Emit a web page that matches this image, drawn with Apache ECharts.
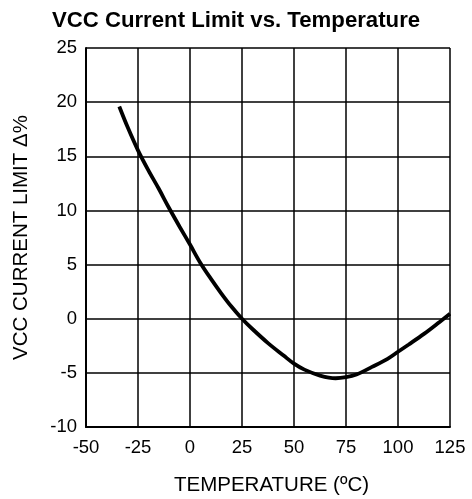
<!DOCTYPE html>
<html>
<head>
<meta charset="utf-8">
<script src="https://cdn.jsdelivr.net/npm/echarts@6/dist/echarts.min.js"></script>
<style>html,body{margin:0;padding:0;background:#fff}#c{width:472px;height:499px}</style>
</head>
<body>
<div id="c"></div>
<script>
const titleText = 'VCC Current Limit vs. Temperature';
const xName = 'TEMPERATURE (ºC)';
const yName = 'VCC CURRENT LIMIT Δ%';
const temperature = [-34, -30, -25, -20, -15, -10, -5, 0, 5, 10, 15, 20, 25, 30, 37.5, 45, 50, 55, 62.5, 70, 75, 80, 87.5, 95, 100, 105, 112.5, 120, 125];
const currentLimitDelta = [19.6, 17.7, 15.55, 13.7, 12.0, 10.2, 8.5, 6.85, 5.15, 3.7, 2.35, 1.1, 0, -0.95, -2.25, -3.4, -4.15, -4.7, -5.25, -5.5, -5.4, -5.15, -4.45, -3.7, -3.05, -2.4, -1.4, -0.3, 0.45];
const xTicks = {min: -50, max: 125, interval: 25};
const yTicks = {min: -10, max: 25, interval: 5};

const chart = echarts.init(document.getElementById('c'), null, {renderer: 'canvas'});
const font = '"Liberation Sans", Arial, sans-serif';
chart.setOption({
  animation: false,
  backgroundColor: '#fff',
  title: {
    text: titleText, left: 'center', top: 5,
    textStyle: {fontFamily: font, fontWeight: 'bold', fontSize: 22.2, color: '#000'}
  },
  grid: {left: 86, right: 22, top: 48, bottom: 72, containLabel: false, outerBoundsMode: 'none'},
  xAxis: {
    type: 'value', min: xTicks.min, max: xTicks.max, interval: xTicks.interval,
    name: xName, nameLocation: 'middle', nameGap: 48,
    nameTextStyle: {fontFamily: font, fontSize: 20.5, color: '#000', padding: [0, 0, 0, 7]},
    axisLine: {show: true, onZero: false, lineStyle: {color: '#000', width: 2}},
    axisTick: {show: false},
    axisLabel: {fontFamily: font, fontSize: 18.5, color: '#000', margin: 11},
    splitLine: {show: true, lineStyle: {color: '#000', width: 1.5}}
  },
  yAxis: {
    type: 'value', min: yTicks.min, max: yTicks.max, interval: yTicks.interval,
    name: yName, nameLocation: 'middle', nameGap: 54, nameRotate: 90,
    nameTextStyle: {fontFamily: font, fontSize: 20.5, color: '#000'},
    axisLine: {show: true, onZero: false, lineStyle: {color: '#000', width: 2}},
    axisTick: {show: false},
    axisLabel: {fontFamily: font, fontSize: 18.5, color: '#000', margin: 9},
    splitLine: {show: true, lineStyle: {color: '#000', width: 1.5}}
  },
  series: [{
    type: 'line',
    data: temperature.map((t, i) => [t, currentLimitDelta[i]]),
    smooth: 0.35,
    showSymbol: false,
    lineStyle: {color: '#000', width: 3.8},
    z: 5
  }]
});
</script>
</body>
</html>
